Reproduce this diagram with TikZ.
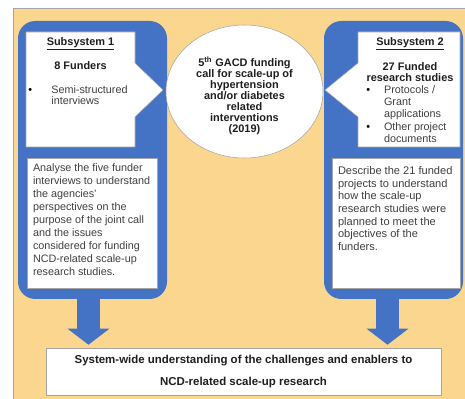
\documentclass[tikz,border=0pt]{standalone}
\usepackage{fontspec}
\setmainfont{Liberation Sans}
\usetikzlibrary{arrows.meta,shapes.geometric}
\definecolor{panelblue}{RGB}{68,114,196}
\definecolor{bgorange}{RGB}{251,214,143}
\definecolor{bodygray}{RGB}{64,64,64}
\definecolor{edgegray}{RGB}{165,165,165}

\begin{document}
\begin{tikzpicture}[x=0.75pt,y=-0.75pt,
    panel/.style={rectangle,fill=panelblue,rounded corners=13pt,inner sep=0pt},
    white box/.style={rectangle,fill=white,draw=edgegray,line width=0.4pt,inner sep=0pt},
    heading/.style={font=\fontsize{8.2}{8.25}\selectfont\bfseries,text=black!88,align=center,inner sep=0pt},
    body/.style={font=\fontsize{8.1}{9.7}\selectfont,text=bodygray,align=left,inner sep=0pt},
    down arrow/.style={draw=panelblue,line width=17.25pt,
                       -{Triangle[length=12pt,width=30.75pt]},shorten >=2.25pt}]
  \useasboundingbox (0,0) rectangle (465,399);
  \fill[bgorange] (13,8) rectangle (465,399);
  \draw[edgegray] (13,399) -- (13,8) -- (465,8);

  % blue panels and the funding call
  \node[panel,minimum width=111.75pt,minimum height=208.5pt] (panelA) at (92.5,160) {};
  \node[panel,minimum width=104.25pt,minimum height=208.5pt] (panelB) at (393.5,160) {};
  \node[ellipse,draw=edgegray,fill=white,minimum width=117.75pt,minimum height=99.75pt,
        inner sep=0pt] (call) at (244.5,91.5) {};
  \node[heading] (callText) at ([yshift=-3.2pt]call.center)
    {5\textsuperscript{th} GACD funding\\call for scale-up of\\hypertension\\and/or diabetes\\related\\interventions\\(2019)};

  % white callouts pointing at the call
  \filldraw[fill=white,draw=edgegray,line width=0.4pt]
    (26,32) -- (135,32) -- (135,63) -- (163,90) -- (135,117) -- (135,147) -- (26,147) -- cycle;
  \filldraw[fill=white,draw=edgegray,line width=0.4pt]
    (460,32) -- (358,32) -- (358,63) -- (325,90) -- (358,117) -- (358,147) -- (460,147) -- cycle;

  % subsystem 1
  \node[heading,anchor=base] (subA) at (80.5,45.5) {\underline{Subsystem 1}};
  \node[heading,anchor=base] (fundersA) at (80.5,70) {8 Funders};
  \node[body,anchor=north west] (methA) at (28,85)
    {\fontsize{8.1}{7.8}\selectfont
     \begin{tabular}{@{}l@{\hspace{14.5pt}}l@{}}
       \textcolor{black}{\textbullet} & Semi-structured\\
                                      & interviews
     \end{tabular}};
  \node[white box,minimum width=97.5pt,minimum height=97.5pt] (descA) at (92,223) {};
  \node[body,anchor=north west] (descAText) at ([shift={(4.5pt,-4.6pt)}]descA.north west)
    {Analyse the five funder\\interviews to understand\\the agencies'\\perspectives on the\\purpose of the joint call\\and the issues\\considered for funding\\NCD-related scale-up\\research studies.};

  % subsystem 2
  \node[heading,anchor=base] (subB) at (410,45.5) {\underline{Subsystem 2}};
  \node[heading,anchor=north,font=\fontsize{8.2}{8.4}\selectfont\bfseries] (fundersB) at (410,62.5)
    {27 Funded\\research studies};
  \node[body,anchor=north west] (methB) at (366,84.5)
    {\fontsize{8.1}{9.2}\selectfont
     \begin{tabular}{@{}l@{\hspace{10.5pt}}l@{}}
       \textcolor{black}{\textbullet} & Protocols /\\
                                      & Grant\\
                                      & applications\\
       \textcolor{black}{\textbullet} & Other project\\
                                      & documents
     \end{tabular}};
  \node[white box,minimum width=96pt,minimum height=97.5pt] (descB) at (396,223) {};
  \node[body,anchor=north west,font=\fontsize{8.3}{9.45}\selectfont] (descBText)
    at ([shift={(4.5pt,-6.5pt)}]descB.north west)
    {Describe the 21 funded\\projects to understand\\how the scale-up\\research studies were\\planned to meet the\\objectives of the\\funders.};

  % shared outcome
  \node[white box,minimum width=296.25pt,minimum height=35.25pt,align=center,
        font=\fontsize{8.6}{16.5}\selectfont\bfseries,text=black!88] (result) at (243.5,371.5)
    {System-wide understanding of the challenges and enablers to\\NCD-related scale-up research};

  \draw[down arrow] ([xshift=-3pt]panelA.south) -- ([xshift=-3pt]panelA.south |- result.north);
  \draw[down arrow] ([xshift=-4.5pt]panelB.south) -- ([xshift=-4.5pt]panelB.south |- result.north);
\end{tikzpicture}
\end{document}
